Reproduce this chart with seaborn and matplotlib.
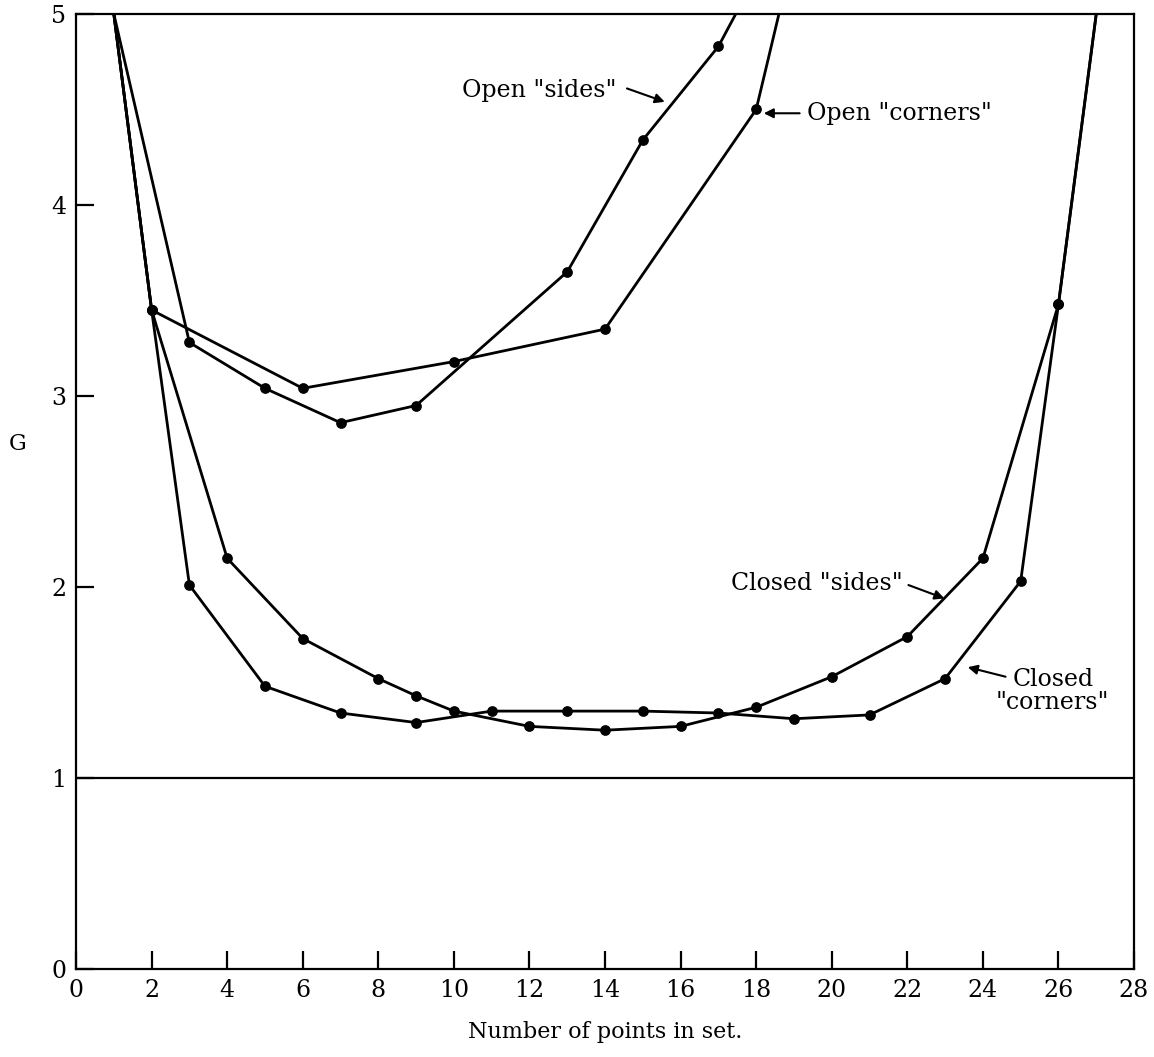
import numpy as np
import pandas as pd
import matplotlib
matplotlib.use('Agg')
import matplotlib.pyplot as plt
import seaborn as sns

sns.set_style('white')
plt.rcParams['font.family'] = ['DejaVu Serif']
plt.rcParams['axes.linewidth'] = 1.6
plt.rcParams['axes.edgecolor'] = 'black'
plt.rcParams['text.color'] = 'black'
plt.rcParams['axes.labelcolor'] = 'black'
plt.rcParams['xtick.color'] = 'black'
plt.rcParams['ytick.color'] = 'black'

# values
open_sides_x = [1, 3, 5, 7, 9, 13, 15, 17, 18]
open_sides_y = [5.0, 3.28, 3.04, 2.86, 2.95, 3.65, 4.34, 4.83, 5.2]

open_corners_x = [1, 2, 6, 10, 14, 18, 19]
open_corners_y = [5.0, 3.45, 3.04, 3.18, 3.35, 4.50, 5.33]

closed_sides_x = [1, 2, 4, 6, 8, 9, 10, 12, 14, 16, 18, 20, 22, 24, 26, 27]
closed_sides_y = [5.0, 3.45, 2.15, 1.73, 1.52, 1.43, 1.35, 1.27, 1.25, 1.27,
                  1.37, 1.53, 1.74, 2.15, 3.48, 5.0]

closed_corners_x = [1, 2, 3, 5, 7, 9, 11, 13, 15, 17, 19, 21, 23, 25, 26, 27]
closed_corners_y = [5.0, 3.45, 2.01, 1.48, 1.34, 1.29, 1.35, 1.35, 1.35, 1.34,
                    1.31, 1.33, 1.52, 2.03, 3.48, 5.0]

x_ticks = list(range(0, 29, 2))
y_ticks = [0, 1, 2, 3, 4, 5]

series = {
    'Open "sides"': (open_sides_x, open_sides_y),
    'Open "corners"': (open_corners_x, open_corners_y),
    'Closed "sides"': (closed_sides_x, closed_sides_y),
    'Closed "corners"': (closed_corners_x, closed_corners_y),
}
df = pd.concat([pd.DataFrame({'n': x, 'G': y, 'set': name})
                for name, (x, y) in series.items()], ignore_index=True)

fig = plt.figure(figsize=(11.54, 10.57), dpi=100)
ax = fig.add_axes([0.0659, 0.0833, 0.9168, 0.9035])

for name in series:
    d = df[df['set'] == name]
    sns.lineplot(data=d, x='n', y='G', color='black', linewidth=2.0,
                 sort=False, estimator=None, ax=ax, legend=False)
    pts = d[d['G'] < 5.0]
    sns.scatterplot(data=pts, x='n', y='G', color='black', s=60,
                    edgecolor='black', linewidth=0, ax=ax, legend=False,
                    zorder=3)

ax.axhline(1, color='black', linewidth=1.6)

ax.set_xlim(0, 28)
ax.set_ylim(0, 5)
ax.set_xticks(x_ticks)
ax.set_yticks(y_ticks)
ax.tick_params(direction='in', length=13, width=1.6, labelsize=17,
               bottom=True, left=True, top=False, right=False, pad=7)
ax.set_xlabel('Number of points in set.', fontsize=16, labelpad=14)
ax.set_ylabel('')
ax.text(-1.55, 2.75, 'G', fontsize=16, ha='center', va='center')

arrow = dict(arrowstyle='-|>', color='black', lw=1.5, mutation_scale=14,
             shrinkA=0, shrinkB=0)
txt = dict(fontsize=17, va='center')

ax.text(14.3, 4.6, 'Open "sides"', ha='right', **txt)
ax.annotate('', xy=(15.58, 4.54), xytext=(14.58, 4.61), arrowprops=arrow)

ax.text(19.35, 4.48, 'Open "corners"', ha='left', **txt)
ax.annotate('', xy=(18.2, 4.48), xytext=(19.15, 4.48), arrowprops=arrow)

ax.text(21.88, 2.02, 'Closed "sides"', ha='right', **txt)
ax.annotate('', xy=(22.98, 1.94), xytext=(22.03, 2.01), arrowprops=arrow)

ax.text(25.85, 1.455, 'Closed\n"corners"', ha='center', linespacing=1.0, **txt)
ax.annotate('', xy=(23.6, 1.58), xytext=(24.6, 1.53), arrowprops=arrow)

fig.savefig('out.png', dpi=100)
